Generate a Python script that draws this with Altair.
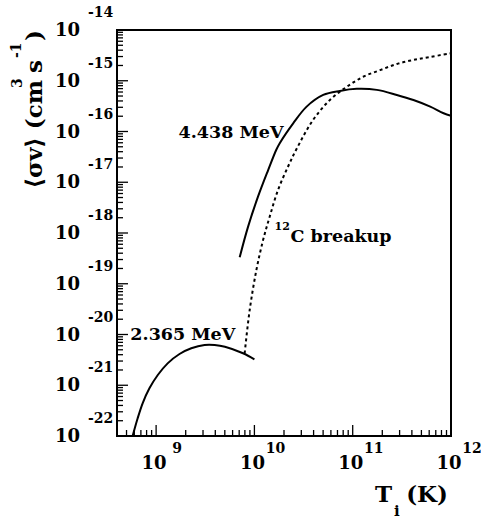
import altair as alt
import pandas as pd

# ---------------- data ----------------
T_2365 = [5.77e8, 6.49e8, 7.29e8, 8.55e8, 1.04e9, 1.31e9, 1.73e9, 2.28e9, 3.11e9, 3.94e9, 5.01e9, 7.66e9, 1.0e10]
SV_2365 = [1.0e-22, 2.23e-22, 4.41e-22, 8.69e-22, 1.59e-21, 2.70e-21, 4.13e-21, 5.35e-21, 6.21e-21, 6.21e-21, 5.75e-21, 4.27e-21, 3.24e-21]

T_4438 = [7.08e9, 8.61e9, 1.09e10, 1.38e10, 1.67e10, 1.81e10, 2.48e10, 3.40e10, 5.01e10, 7.41e10,
          1.10e11, 1.76e11, 2.81e11, 4.15e11, 6.15e11, 8.41e11, 1.0e12]
SV_4438 = [3.31e-19, 1.32e-18, 5.25e-18, 1.74e-17, 4.37e-17, 5.89e-17, 1.45e-16, 3.09e-16, 5.25e-16, 6.31e-16,
           6.92e-16, 6.61e-16, 5.25e-16, 4.17e-16, 3.09e-16, 2.29e-16, 2.04e-16]

T_BREAK = [7.96e9, 8.95e9, 1.047e10, 1.225e10, 1.43e10, 1.74e10, 2.20e10, 2.69e10, 3.96e10, 5.86e10,
           8.69e10, 1.28e11, 1.90e11, 2.81e11, 4.15e11, 6.15e11, 1.0e12]
SV_BREAK = [4.27e-21, 3.02e-20, 1.86e-19, 7.24e-19, 2.09e-18, 7.08e-18, 2.04e-17, 4.57e-17, 1.70e-16, 4.17e-16,
            7.59e-16, 1.20e-15, 1.62e-15, 2.14e-15, 2.57e-15, 2.95e-15, 3.47e-15]

X_MAJOR = [1e9, 1e10, 1e11, 1e12]
X_EXP = ["9", "10", "11", "12"]
Y_MAJOR = [1e-22, 1e-21, 1e-20, 1e-19, 1e-18, 1e-17, 1e-16, 1e-15, 1e-14]
Y_EXP = ["-22", "-21", "-20", "-19", "-18", "-17", "-16", "-15", "-14"]
MULT = [2, 3, 4, 5, 6, 7, 8, 9]
X_MINOR = [m * 1e8 for m in [5, 6, 7, 8, 9]] + [m * d for d in [1e9, 1e10, 1e11] for m in MULT]
Y_MINOR = [m * d for d in Y_MAJOR[:-1] for m in MULT]

ANN_TEXT = ["4.438 MeV", "2.365 MeV", "C breakup"]
ANN_T = [1.69e9, 5.47e8, 2.33e10]
ANN_SV = [7.45e-17, 7.8e-21, 6.65e-19]

# ---------------- styling ----------------
FONT = "DejaVu Serif"
W, H = 334, 406
xs = alt.Scale(type="log", domain=[4e8, 1e12], nice=False)
ys = alt.Scale(type="log", domain=[1e-22, 1e-14], nice=False)
X = lambda f: alt.X(f, type="quantitative", scale=xs, axis=None)
Y = lambda f: alt.Y(f, type="quantitative", scale=ys, axis=None)

solid = pd.concat([
    pd.DataFrame({"T": T_2365, "sv": SV_2365, "s": "2.365"}),
    pd.DataFrame({"T": T_4438, "sv": SV_4438, "s": "4.438"}),
])
brk = pd.DataFrame({"T": T_BREAK, "sv": SV_BREAK})

l_solid = alt.Chart(solid).mark_line(color="black", strokeWidth=2, interpolate="catmull-rom", clip=True).encode(
    x=X("T"), y=Y("sv"), detail="s:N")
l_break = alt.Chart(brk).mark_line(color="black", strokeWidth=2, strokeDash=[3, 3], interpolate="catmull-rom", clip=True).encode(
    x=X("T"), y=Y("sv"))

# ticks inside the frame (ROOT style)
ymaj = pd.DataFrame({"v": Y_MAJOR, "base": "10", "exp": Y_EXP})
ymin = pd.DataFrame({"v": Y_MINOR})
xmaj = pd.DataFrame({"v": X_MAJOR, "base": "10", "exp": X_EXP})
xmin = pd.DataFrame({"v": X_MINOR})

t_ymaj = alt.Chart(ymaj).mark_rule(color="black", strokeWidth=1.3).encode(y=Y("v"), x=alt.value(0), x2=alt.value(11))
t_ymin = alt.Chart(ymin).mark_rule(color="black", strokeWidth=1.3).encode(y=Y("v"), x=alt.value(0), x2=alt.value(6))
t_xmaj = alt.Chart(xmaj).mark_rule(color="black", strokeWidth=1.3).encode(x=X("v"), y=alt.value(H), y2=alt.value(H - 11))
t_xmin = alt.Chart(xmin).mark_rule(color="black", strokeWidth=1.3).encode(x=X("v"), y=alt.value(H), y2=alt.value(H - 6))

# tick labels 10^n
lab_y10 = alt.Chart(ymaj).mark_text(font=FONT, fontWeight="bold", fontSize=18, align="right", baseline="middle", dy=1).encode(
    y=Y("v"), x=alt.value(-37), text="base:N")
lab_yexp = alt.Chart(ymaj).mark_text(font=FONT, fontWeight="bold", fontSize=14, align="left", baseline="middle", dy=-17).encode(
    y=Y("v"), x=alt.value(-29), text="exp:N")
lab_x10 = alt.Chart(xmaj).mark_text(font=FONT, fontWeight="bold", fontSize=18, align="center", baseline="middle", dx=-2).encode(
    x=X("v"), y=alt.value(434), text="base:N")
lab_xexp = alt.Chart(xmaj).mark_text(font=FONT, fontWeight="bold", fontSize=14, align="center", baseline="middle", dx=21).encode(
    x=X("v"), y=alt.value(419), text="exp:N")

# annotations
ann = pd.DataFrame({"t": ANN_TEXT, "T": ANN_T, "sv": ANN_SV})
l_ann = alt.Chart(ann).mark_text(font=FONT, fontWeight="bold", fontSize=17.5, align="left", baseline="alphabetic").encode(
    x=X("T"), y=Y("sv"), text="t:N")
sup12 = alt.Chart(pd.DataFrame({"t": ["12"], "T": [1.60e10], "sv": [1.15e-18]})).mark_text(
    font=FONT, fontWeight="bold", fontSize=11, align="left", baseline="alphabetic").encode(
    x=X("T"), y=Y("sv"), text="t:N")


def piece(text, x, y, size, angle=None, align="left"):
    kw = dict(font=FONT, fontWeight="bold", fontSize=size, align=align, baseline="alphabetic")
    if angle is not None:
        kw["angle"] = angle
    return alt.Chart(pd.DataFrame({"t": [text]})).mark_text(**kw).encode(
        x=alt.value(x), y=alt.value(y), text="t:N")


titles = [
    # y title, rotated
    piece("⟨σv⟩ (cm", -75, 50, 23, 270, "right"),
    piece("3", -95, 58, 14, 270),
    piece("s", -75, 43, 23, 270),
    piece("-1", -96, 28, 14, 270),
    piece(")", -75, 11, 23, 270),
    # x title
    piece("T", 258, 472, 23),
    piece("i", 277, 486, 15),
    piece("(K)", 331, 472, 23, None, "right"),
]

chart = alt.layer(
    l_solid, l_break, t_ymaj, t_ymin, t_xmaj, t_xmin,
    lab_y10, lab_yexp, lab_x10, lab_xexp, l_ann, sup12, *titles
).properties(
    width=W, height=H,
    autosize=alt.AutoSizeParams(type="none"),
    padding={"left": 117, "top": 30, "right": 30, "bottom": 83},
    background="white",
).configure_view(stroke="black", strokeWidth=2)

chart.save("out.html", embed_options={"renderer": "svg", "actions": False})
